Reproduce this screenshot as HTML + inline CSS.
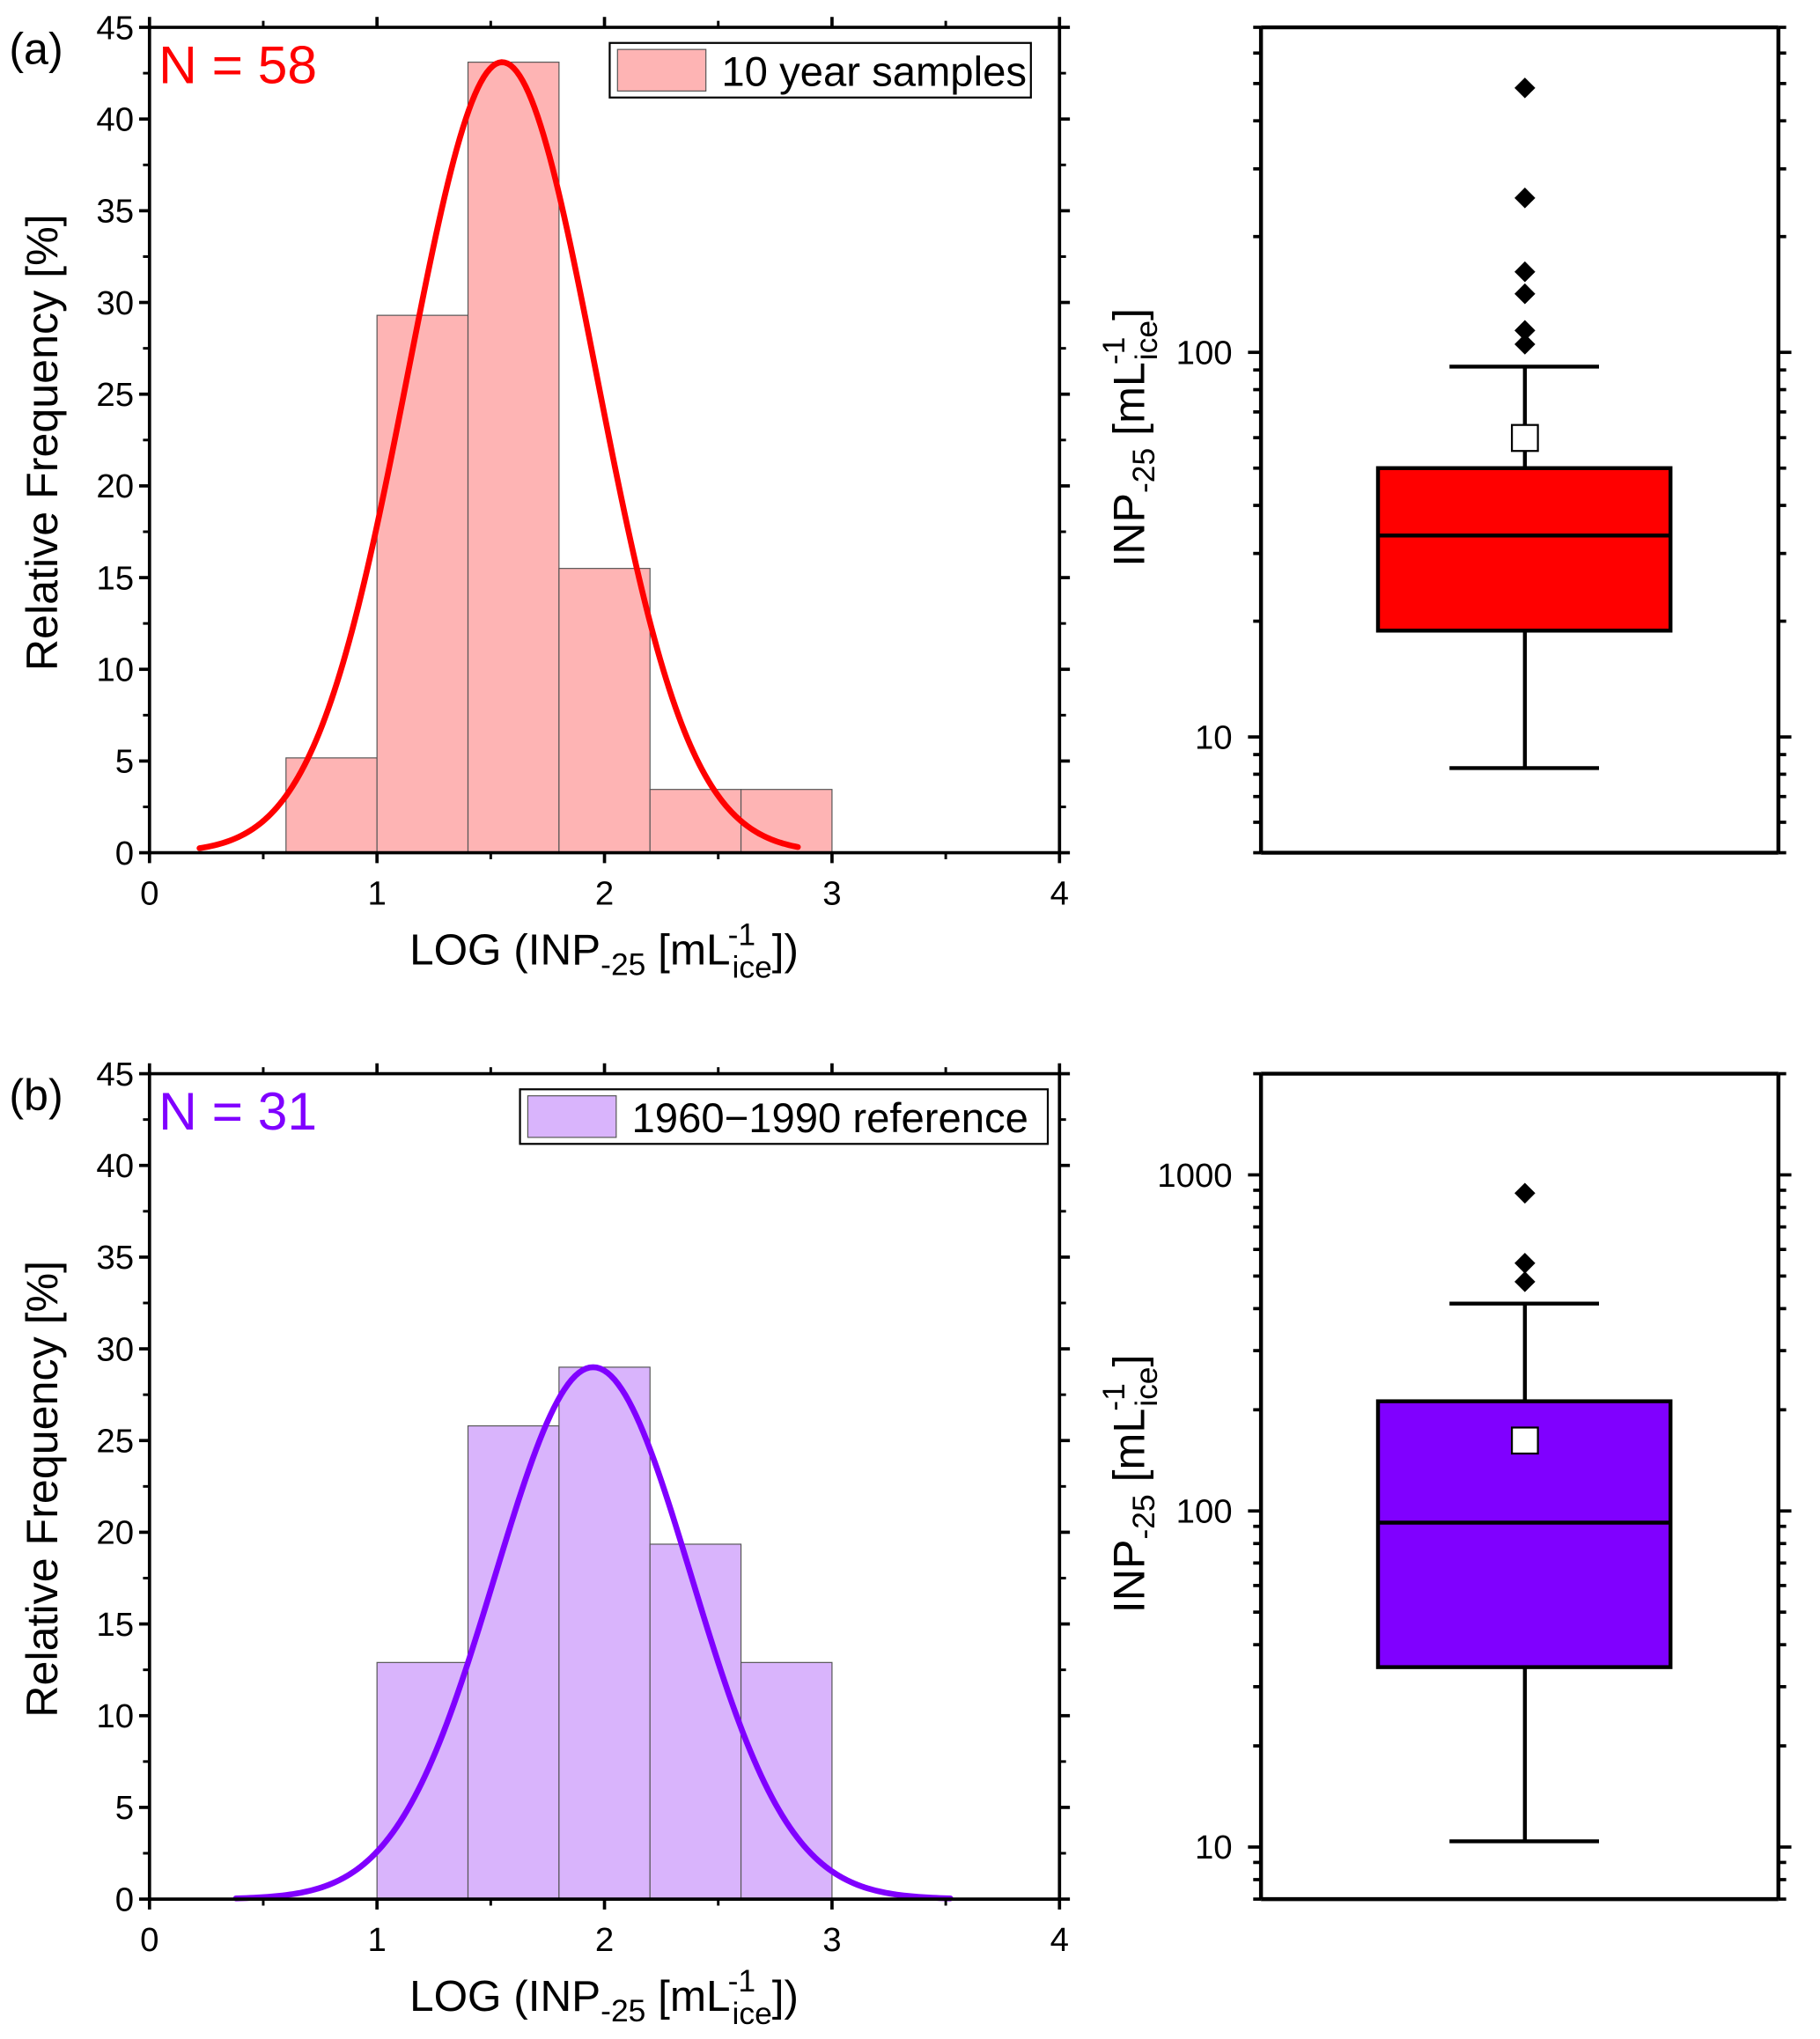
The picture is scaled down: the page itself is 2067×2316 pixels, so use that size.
<!DOCTYPE html>
<html><head><meta charset="utf-8"><style>
html,body{margin:0;padding:0;background:#fff}
svg{display:block}
text{font-family:"Liberation Sans",Arial,sans-serif}
</style></head><body>
<svg id="fig" width="2067" height="2316" viewBox="0 0 1400 1568.6" xmlns="http://www.w3.org/2000/svg"></svg>
<script>
// ---- data ----
const binEdgesA = [0.6,1.0,1.4,1.8,2.2,2.6,3.0];
const freqA = [5.17,29.3,43.1,15.5,3.45,3.45];
const fitA = {mu:1.55, sigma:0.414, peak:43.1, from:0.22, to:2.85};
const binEdgesB = [1.0,1.4,1.8,2.2,2.6,3.0];
const freqB = [12.9,25.8,29.0,19.35,12.9];
const fitB = {mu:1.95, sigma:0.432, peak:29.0, from:0.38, to:3.52};
const boxA = {q1:18.9, median:33.4, q3:50, whiskLo:8.3, whiskHi:91.8, mean:59.9};
const outliersA = [487,252,162,142,114,105];
const boxB = {q1:34.3, median:92.3, q3:212, whiskLo:10.4, whiskHi:414, mean:162};
const outliersB = [882,546,481];
const xTicks = [0,1,2,3,4];
const yTicks = [0,5,10,15,20,25,30,35,40,45];

const NS="http://www.w3.org/2000/svg";
const svg=document.getElementById('fig');
function el(tag,attrs,parent){const e=document.createElementNS(NS,tag);for(const k in attrs)e.setAttribute(k,attrs[k]);(parent||svg).appendChild(e);return e;}
function line(x1,y1,x2,y2,w,p){return el('line',{x1,y1,x2,y2,stroke:'#000','stroke-width':w||2.5},p);}

function histPanel(top,edges,freq,fit,fill,curveColor,nText,legendText,tag,legX,legW){
  const L=115,R=815,T=top,B=top+635;
  const g=el('g',{});
  
  
  const sx=v=>L+(v-0)/4*(R-L), sy=v=>B-v/45*(B-T);
  for(let i=0;i<freq.length;i++){
    const r=el('rect',{x:sx(edges[i]),y:sy(freq[i]),width:sx(edges[i+1])-sx(edges[i]),height:B-sy(freq[i]),fill:fill,stroke:'#555','stroke-width':0.8},g);
    
    
  }
  let d='';
  for(let k=0;k<=200;k++){const x=fit.from+(fit.to-fit.from)*k/200;const y=fit.peak*Math.exp(-Math.pow(x-fit.mu,2)/(2*fit.sigma*fit.sigma));d+=(k?'L':'M')+sx(x).toFixed(2)+','+sy(y).toFixed(2);}
  const c=el('path',{d,fill:'none',stroke:curveColor,'stroke-width':4.5,'stroke-linecap':'round'},g);
  
  
  line(L,T,R,T,2.5,g);line(L,B,R,B,2.5,g);line(L,T,L,B,2.5,g);line(R,T,R,B,2.5,g);
  yTicks.forEach(v=>{const y=sy(v);line(L-8,y,L,y,2.5,g);line(R,y,R+8,y,2.5,g);
    const t=el('text',{x:L-12,y:y+9,'font-size':26,'text-anchor':'end'},g);t.textContent=v;
    });
  for(let v=2.5;v<45;v+=5){const y=sy(v);line(L-5,y,L,y,2,g);line(R,y,R+5,y,2,g);}
  xTicks.forEach(v=>{const x=sx(v);line(x,B,x,B+8,2.5,g);line(x,T-8,x,T,2.5,g);
    const t=el('text',{x:x,y:B+40,'font-size':26,'text-anchor':'middle'},g);t.textContent=v;
    });
  for(let v=0.5;v<4;v+=1){const x=sx(v);line(x,B,x,B+5,2,g);line(x,T-5,x,T,2,g);}
  const pl=el('text',{x:7,y:T+28,'font-size':34},g);pl.textContent='('+tag+')';
  
  const n=el('text',{x:122,y:T+43,'font-size':41,fill:curveColor},g);n.textContent=nText;
  
  const yl=el('text',{transform:`translate(44,${(T+B)/2+2}) rotate(-90)`,'font-size':34,'text-anchor':'middle'},g);yl.textContent='Relative Frequency [%]';
  
  const xl=el('text',{x:315,y:B+86,'font-size':33.5},g);
  xl.innerHTML='LOG (INP<tspan font-size="24" dy="8">-25</tspan><tspan dy="-8"> [mL</tspan><tspan font-size="24" dx="-2" dy="-15">-1</tspan><tspan font-size="24" dx="-18" dy="25">ice</tspan><tspan dy="-10">])</tspan>';
  
  const lg=el('g',{},g);
  el('rect',{x:legX,y:T+12,width:legW,height:42,fill:'#fff',stroke:'#000','stroke-width':1.5},lg);
  el('rect',{x:legX+6,y:T+17,width:68,height:32,fill:fill,stroke:'#555','stroke-width':0.8},lg);
  const lt=el('text',{x:legX+86,y:T+45,'font-size':32},lg);lt.textContent=legendText;
}

function boxPanel(top,logMin,logMax,box,outl,color,tag,majors){
  const L=970,R=1368,T=top,B=top+635;
  const g=el('g',{});
  
  
  const sy=v=>B-(Math.log10(v)-logMin)/(logMax-logMin)*(B-T);
  const cx=1173;
  line(cx,sy(box.whiskHi),cx,sy(box.whiskLo),3,g);
  line(1115,sy(box.whiskHi),1230,sy(box.whiskHi),3,g);
  line(1115,sy(box.whiskLo),1230,sy(box.whiskLo),3,g);
  const r=el('rect',{x:1060,y:sy(box.q3),width:225,height:sy(box.q1)-sy(box.q3),fill:color,stroke:'#000','stroke-width':3},g);
  
  line(1060,sy(box.median),1285,sy(box.median),3,g);
  const m=el('rect',{x:cx-10,y:sy(box.mean)-10,width:20,height:20,fill:'#fff',stroke:'#000','stroke-width':1.5},g);
  
  outl.forEach(v=>{const y=sy(v);const p=el('path',{d:`M${cx},${y-8}L${cx+8},${y}L${cx},${y+8}L${cx-8},${y}Z`,fill:'#000'},g);
    });
  line(L,T,R,T,3,g);line(L,B,R,B,3,g);line(L,T,L,B,3,g);line(R,T,R,B,3,g);
  for(let e=Math.floor(logMin);e<=Math.ceil(logMax);e++){
    for(let k=1;k<10;k++){const v=k*Math.pow(10,e);const lv=Math.log10(v);if(lv<logMin-1e-9||lv>logMax+1e-9)continue;
      const y=sy(v);const len=k===1?10:6;line(L-len,y,L,y,2.5,g);line(R,y,R+len,y,2.5,g);}
  }
  majors.forEach(v=>{const t=el('text',{x:L-22,y:sy(v)+9,'font-size':26,'text-anchor':'end'},g);t.textContent=v;
    });
  const yl=el('text',{transform:`translate(880,${(T+B)/2-2}) rotate(-90)`,'font-size':34,'text-anchor':'middle'},g);
  yl.innerHTML='INP<tspan font-size="24" dy="8">-25</tspan><tspan dy="-8"> [mL</tspan><tspan font-size="24" dx="-2" dy="-15">-1</tspan><tspan font-size="24" dx="-18" dy="25">ice</tspan><tspan dy="-10">]</tspan>';
  
}

histPanel(21,binEdgesA,freqA,fitA,'#feb4b4','#ff0000','N = 58','10 year samples','a',469,324);
boxPanel(21,Math.log10(5),Math.log10(700),boxA,outliersA,'#ff0000','a',[10,100]);
histPanel(826,binEdgesB,freqB,fitB,'#d9b4fc','#8000ff','N = 31','1960\u22121990 reference','b',400,406);
boxPanel(826,Math.log10(7),Math.log10(2000),boxB,outliersB,'#8000ff','b',[10,100,1000]);
</script>
</body></html>
